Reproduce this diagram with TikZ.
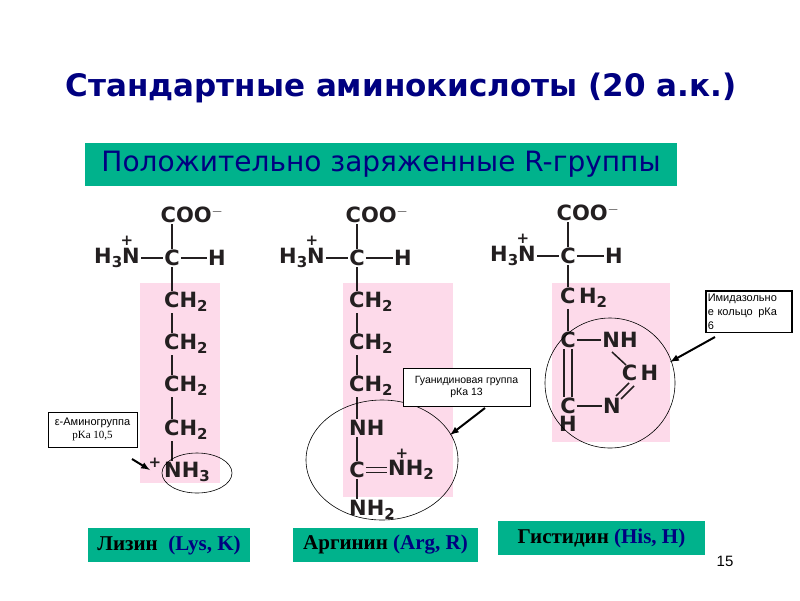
\documentclass[tikz,border=0pt]{standalone}
\usepackage{fontspec}
\setmainfont{Liberation Serif}
\setsansfont{DejaVu Sans}
\newfontfamily\arial{Liberation Sans}
\newcommand{\sbs}[1]{\raisebox{-0.35ex}{\fontsize{15}{15}\selectfont #1}}
\definecolor{tblue}{RGB}{0,0,128}
\definecolor{tgreen}{RGB}{0,178,140}
\definecolor{tpink}{RGB}{253,218,234}
\definecolor{atom}{RGB}{35,31,32}
\begin{document}
\begin{tikzpicture}[x=1pt,y=-1pt,
  atm/.style={font=\sffamily\bfseries\fontsize{21}{21}\selectfont,text=atom,inner sep=1pt},
  bond/.style={draw=atom,line width=1.5pt},
  note/.style={draw,fill=white,line width=0.8pt,align=center,inner sep=2pt},
  namebox/.style={fill=tgreen,font=\bfseries\fontsize{21}{21}\selectfont,inner sep=0pt,minimum height=34pt},
  ring/.style={draw,line width=0.6pt},
  arr/.style={-latex,line width=2pt}]
\useasboundingbox (0,0) rectangle (800,600);
\node (title) at (401,88) {\sffamily\bfseries\fontsize{31}{31}\selectfont\color{tblue}Стандартные аминокислоты (20 а.к.)};
\node[fill=tgreen,minimum width=592pt,minimum height=43pt,inner sep=0pt] (sub) at (381,164.5) {\sffamily\fontsize{28}{28}\selectfont\color{tblue}Положительно заряженные R-группы};
% pink
\fill[tpink] (140,283) rectangle (220,483);
\fill[tpink] (343,283) rectangle (453,497);
\fill[tpink] (552,283) rectangle (670,442);
% ===== Lysine
\node[atm] (lc) at (172,258) {C};
\node[atm] (lcoo) at (192,215) {COO$^{-}$};
\node[atm,anchor=east] (ln) at (141,258) {H\sbs{3}N};
\node[atm] (lp) at (127,241) {\fontsize{15}{15}\selectfont+};
\node[atm] (lh) at (217,258) {H};
\node[atm,anchor=west] (l1) at (163,302) {CH\sbs{2}};
\node[atm,anchor=west] (l2) at (163,344) {CH\sbs{2}};
\node[atm,anchor=west] (l3) at (163,386) {CH\sbs{2}};
\node[atm,anchor=west] (l4) at (163,430) {CH\sbs{2}};
\node[atm,anchor=west] (l5) at (163,472) {NH\sbs{3}};
\node[atm] (lp2) at (155,463) {\fontsize{15}{15}\selectfont+};
\draw[bond] (lc.north) -- (lc.north |- lcoo.south);
\draw[bond] (ln.east) -- (lc.west);
\draw[bond] (lc.east) -- (lh.west);
\draw[bond] (lc.south) -- (lc.south |- l1.north);
\foreach \a/\b in {l1/l2,l2/l3,l3/l4,l4/l5}{\draw[bond] (lc |- \a.south) -- (lc |- \b.north);}
\draw[ring] (197,473) ellipse (35 and 20);
\node[note,font=\arial\fontsize{11}{13}\selectfont,minimum width=89pt,minimum height=35pt] (lnote) at (92.5,429.5) {ε-Аминогруппа\\ \rmfamily pKa 10,5};
\coordinate (lt) at (150,470);
\draw[arr] (132,459) -- (lt);
% ===== Arginine
\node[atm] (ac) at (357,258) {C};
\node[atm] (acoo) at (377,215) {COO$^{-}$};
\node[atm,anchor=east] (an) at (326,258) {H\sbs{3}N};
\node[atm] (ap) at (312,241) {\fontsize{15}{15}\selectfont+};
\node[atm] (ah) at (403,258) {H};
\node[atm,anchor=west] (a1) at (348,302) {CH\sbs{2}};
\node[atm,anchor=west] (a2) at (348,344) {CH\sbs{2}};
\node[atm,anchor=west] (a3) at (348,386) {CH\sbs{2}};
\node[atm,anchor=west] (a4) at (348,428) {NH};
\node[atm] (a5) at (357,470) {C};
\node[atm,anchor=west] (a6) at (387,470) {NH\sbs{2}};
\node[atm] (ap2) at (402,454) {\fontsize{15}{15}\selectfont+};
\node[atm,anchor=west] (a7) at (348,510) {NH\sbs{2}};
\draw[bond] (ac.north) -- (ac.north |- acoo.south);
\draw[bond] (an.east) -- (ac.west);
\draw[bond] (ac.east) -- (ah.west);
\draw[bond] (ac.south) -- (ac.south |- a1.north);
\foreach \a/\b in {a1/a2,a2/a3,a3/a4,a4/a5,a5/a7}{\draw[bond] (ac |- \a.south) -- (ac |- \b.north);}
\draw[bond] ([yshift=-2.5pt]a5.east) -- ([yshift=-2.5pt]a6.west);
\draw[bond] ([yshift=2.5pt]a5.east) -- ([yshift=2.5pt]a6.west);
\draw[ring] (382,460) ellipse (76 and 60);
\node[note,font=\arial\fontsize{10.5}{12.5}\selectfont,minimum width=127pt,minimum height=38pt] (anote) at (466.5,387) {Гуанидиновая группа\\рКа 13};
\coordinate (at1) at (450,435);
\draw[arr] (485,408) -- (at1);
% ===== Histidine
\node[atm] (hc) at (568,256) {C};
\node[atm] (hcoo) at (588,213) {COO$^{-}$};
\node[atm,anchor=east] (hn) at (537,256) {H\sbs{3}N};
\node[atm] (hp) at (523,239) {\fontsize{15}{15}\selectfont+};
\node[atm] (hh) at (614,256) {H};
\node[atm,anchor=west] (h1) at (559,298) {C\,H\sbs{2}};
\node[atm] (hr1) at (568,340) {C};
\node[atm] (hnh) at (620,340) {NH};
\node[atm] (hch) at (640,373) {C\,H};
\node[atm] (hr2) at (568,406) {C};
\node[atm] (hhn) at (612,406) {N};
\node[atm] (hr3) at (568,424) {H};
\draw[bond] (hc.north) -- (hc.north |- hcoo.south);
\draw[bond] (hn.east) -- (hc.west);
\draw[bond] (hc.east) -- (hh.west);
\draw[bond] (hc.south) -- (hc.south |- h1.north);
\draw[bond] (hc |- h1.south) -- (hr1.north);
\draw[bond] (hr1.east) -- (hnh.west);
\draw[bond] (hr2.east) -- (hhn.west);
\draw[bond] ([xshift=-4pt]hr1.south) -- ([xshift=-4pt]hr2.north);
\draw[bond] ([xshift=4pt]hr1.south) -- ([xshift=4pt]hr2.north);
\draw[bond] (612,352) -- (626,365);
\draw[bond] (616,396) -- (629,383);
\draw[bond] (621,399) -- (634,386);
\draw[ring] (610,383) circle (65);
\node[note,anchor=north west,font=\arial\fontsize{11}{14}\selectfont,align=left,line width=1.5pt,text width=82pt,inner ysep=3pt] (hnote) at (705,290) {Имидазольно\\е кольцо\enspace рКа\\6};
\coordinate (ht) at (670,362);
\draw[arr] (715,337) -- (ht);
% ===== names
\node[namebox,minimum width=162pt] (n1) at (169,545) {Лизин \ \color{tblue}(Lys, K)};
\node[namebox,minimum width=185pt] (n2) at (385.5,545) {Аргинин \color{tblue}(Arg, R)};
\node[namebox,minimum width=207pt] (n3) at (601.5,538) {Гистидин \color{tblue}(His, H)};
\node (pg) at (725,561) {\arial\fontsize{15}{15}\selectfont 15};
\end{tikzpicture}
\end{document}
